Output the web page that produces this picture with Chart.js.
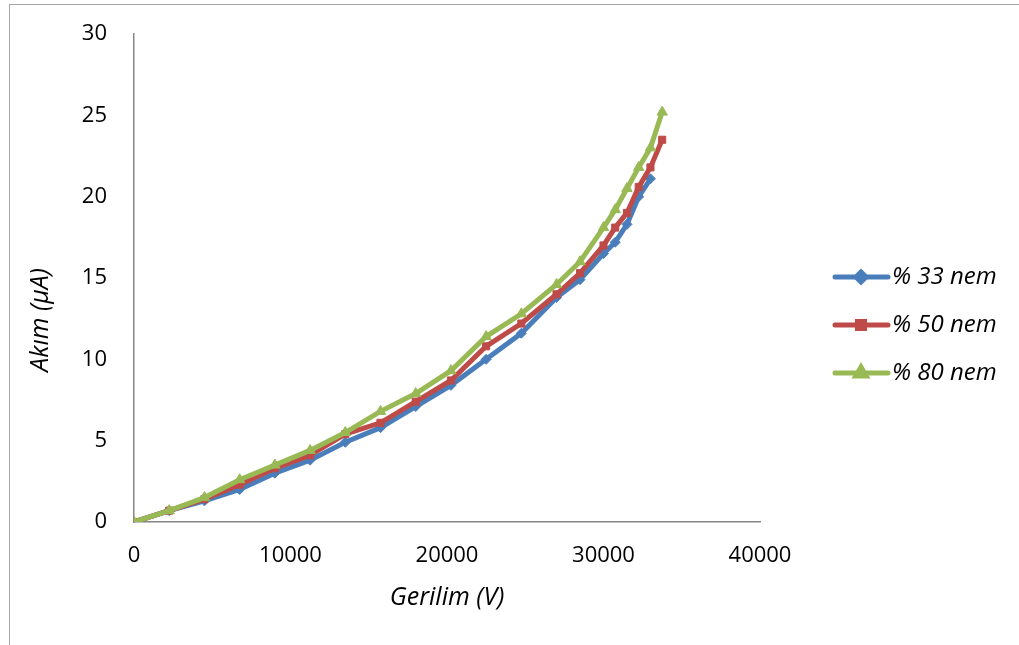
<!DOCTYPE html>
<html>
<head>
<meta charset="utf-8">
<script src="https://cdn.jsdelivr.net/npm/chart.js@4.4.1/dist/chart.umd.min.js"></script>
<style>
    body { margin: 0; background: #fff; }
    #wrap { position: relative; width: 1019px; height: 645px; overflow: hidden; }
    #frame { position: absolute; left: 9px; top: 4px; right: -2px; bottom: -2px; border-left: 1px solid #a6a6a6; border-top: 1px solid #a6a6a6; }
    #chart { position: absolute; left: 0; top: 0; }
</style>
</head>
<body>
<div id="wrap">
    <div id="frame"></div>
    <canvas id="chart" width="1019" height="645"></canvas>
</div>
<script>
// Gerilim (V) values shared by all series
const gerilim = [0, 2250, 4500, 6750, 9000, 11250, 13500, 15750, 18000, 20250,
    22500, 24750, 27000, 28500, 30000, 30750, 31500, 32250, 33000, 33750];

const seriesNames = ['% 33 nem', '% 50 nem', '% 80 nem'];

// Akım (µA)
const nem33 = [0, 0.7, 1.3, 2.0, 3.0, 3.8, 4.9, 5.8, 7.1, 8.4, 10.0, 11.6, 13.8, 14.9, 16.5, 17.2, 18.3, 20.0, 21.1];
const nem50 = [0, 0.7, 1.4, 2.3, 3.3, 4.1, 5.4, 6.1, 7.4, 8.7, 10.8, 12.2, 14.0, 15.3, 17.0, 18.1, 19.0, 20.6, 21.8, 23.5];
const nem80 = [0, 0.7, 1.5, 2.6, 3.5, 4.4, 5.5, 6.8, 7.9, 9.3, 11.4, 12.8, 14.6, 16.0, 18.1, 19.2, 20.5, 21.8, 23.0, 25.2];

const xTicks = [0, 10000, 20000, 30000, 40000];
const yTicks = [0, 5, 10, 15, 20, 25, 30];

const colors = ['#4a7ebb', '#be4b48', '#98b954'];
const markers = ['rectRot', 'rect', 'triangle'];
const markerSize = [5, 5, 6];

function toPoints(vals) {
    return vals.map((v, i) => ({ x: gerilim[i], y: v }));
}

const FONT = "'Open Sans', 'DejaVu Sans', sans-serif";

// legend (line + marker) and rotated y title
const extras = {
    id: 'extras',
    afterDraw(chart) {
        const ctx = chart.ctx;
        ctx.save();
        chart.data.datasets.forEach((ds, i) => {
            const y = 277 + i * 48;
            ctx.strokeStyle = ds.borderColor;
            ctx.lineWidth = 5;
            ctx.lineCap = 'round';
            ctx.beginPath();
            ctx.moveTo(835, y);
            ctx.lineTo(888, y);
            ctx.stroke();
            ctx.fillStyle = ds.borderColor;
            Chart.helpers.drawPoint(ctx, {
                pointStyle: ds.pointStyle, radius: ds.pointRadius, rotation: 0, borderWidth: 1
            }, 861, y);
            ctx.fillStyle = '#000';
            ctx.font = 'italic 24px ' + FONT;
            ctx.textAlign = 'left';
            ctx.textBaseline = 'middle';
            ctx.fillText(ds.label, 892, y);
        });
        ctx.translate(41, 320);
        ctx.rotate(-Math.PI / 2);
        ctx.fillStyle = '#000';
        ctx.font = 'italic 25px ' + FONT;
        ctx.textAlign = 'center';
        ctx.textBaseline = 'middle';
        ctx.fillText('Akım (μA)', 0, 0);
        ctx.restore();
    }
};

const allSeries = [nem33, nem50, nem80];

new Chart(document.getElementById('chart').getContext('2d'), {
    type: 'line',
    data: {
        datasets: allSeries.map((vals, i) => ({
            label: seriesNames[i],
            data: toPoints(vals),
            borderColor: colors[i],
            backgroundColor: colors[i],
            pointBackgroundColor: colors[i],
            pointBorderColor: colors[i],
            pointStyle: markers[i],
            pointRadius: markerSize[i],
            pointBorderWidth: 1,
            borderWidth: 5,
            tension: 0,
            order: 2 - i
        }))
    },
    options: {
        responsive: false,
        animation: false,
        events: [],
        layout: { padding: { top: 34, right: 259, bottom: 0, left: 0 } },
        plugins: {
            legend: { display: false },
            tooltip: { enabled: false }
        },
        scales: {
            x: {
                type: 'linear',
                min: 0,
                max: 40000,
                afterFit(s) { s.height = 123; s.paddingLeft = 0; s.paddingRight = 0; },
                afterBuildTicks(s) { s.ticks = xTicks.map(v => ({ value: v })); },
                grid: { display: false, drawTicks: false },
                border: { display: true, color: '#868686', width: 1.5 },
                ticks: {
                    padding: 21,
                    color: '#000',
                    font: { family: FONT, size: 22 },
                    callback: v => String(v)
                },
                title: {
                    display: true,
                    text: 'Gerilim (V)',
                    color: '#000',
                    font: { family: FONT, size: 25, style: 'italic' },
                    padding: { bottom: 32 }
                }
            },
            y: {
                type: 'linear',
                min: 0,
                max: 30,
                afterFit(s) { s.width = 134; s.paddingTop = 0; s.paddingBottom = 0; },
                afterBuildTicks(s) { s.ticks = yTicks.map(v => ({ value: v })); },
                grid: { display: false, drawTicks: false },
                border: { display: true, color: '#868686', width: 1.5 },
                ticks: {
                    padding: 27,
                    color: '#000',
                    font: { family: FONT, size: 22 },
                    callback: v => String(v)
                }
            }
        }
    },
    plugins: [extras]
});
</script>
</body>
</html>
